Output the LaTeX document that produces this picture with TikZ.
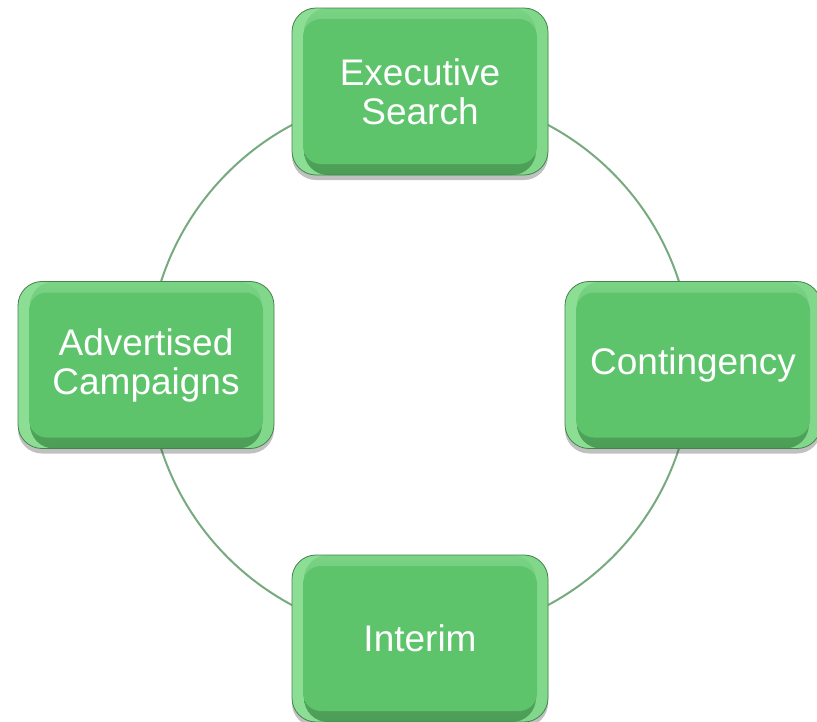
\documentclass[tikz,border=0pt]{standalone}
\usepackage{fontspec}
\setmainfont{Liberation Sans}
\usetikzlibrary{shadows}
\definecolor{boxmain}{RGB}{94,196,108}
\definecolor{boxedge}{RGB}{140,222,148}
\definecolor{boxborder}{RGB}{70,130,78}
\definecolor{ringcol}{RGB}{120,170,128}
\tikzset{
  cyclebox/.style={
    draw=boxborder, line width=0.8pt, fill=boxedge,
    rounded corners=24pt,
    minimum width=256pt, minimum height=167pt,
    align=center, text=white,
    font=\fontsize{37}{39}\selectfont,
    drop shadow={shadow xshift=0pt, shadow yshift=-5pt, opacity=0.35, fill=black!70},
    path picture={
      \fill[left color=boxedge, right color=boxedge!75!boxmain]
        (path picture bounding box.south west) rectangle (path picture bounding box.north east);
      \fill[top color=boxedge!60!boxmain, bottom color=boxmain!80!black]
        ([xshift=12pt]path picture bounding box.south west) rectangle ([xshift=-12pt]path picture bounding box.north east);
      \fill[boxmain, rounded corners=18pt]
        ([xshift=11pt,yshift=11pt]path picture bounding box.south west) rectangle ([xshift=-11pt,yshift=-11pt]path picture bounding box.north east);
    }
  },
  ringline/.style={draw=ringcol, line width=2pt}
}
\begin{document}
\begin{tikzpicture}[x=1pt,y=-1pt]
\useasboundingbox (0,0) rectangle (817,721);
\clip (0,0) rectangle (817,721);
\fill[white] (0,0) rectangle (817,721);
\coordinate (ctr) at (420,365);
\draw[ringline] (ctr) circle[radius=272pt];
\node[cyclebox] (top) at (420,91.5) {Executive\\Search};
\node[cyclebox] (right) at (693,365) {Contingency};
\node[cyclebox] (bottom) at (420,638.5) {Interim};
\node[cyclebox] (left) at (146,365) {Advertised\\Campaigns};
\end{tikzpicture}
\end{document}
